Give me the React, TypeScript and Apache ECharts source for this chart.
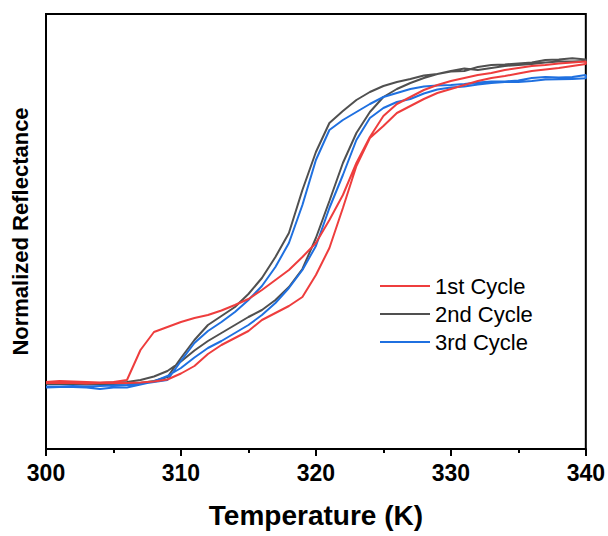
import React, { useEffect, useRef } from "react";
import * as echarts from "echarts";

// Temperature grid (K)
const temperatureK = [
  300, 301, 302, 303, 304, 305, 306, 307, 308, 309,
  310, 311, 312, 313, 314, 315, 316, 317, 318, 319,
  320, 321, 322, 323, 324, 325, 326, 327, 328, 329,
  330, 331, 332, 333, 334, 335, 336, 337, 338, 339, 340,
];

// Reflectance (arbitrary units)
const cycle1Heating = [
  67, 67, 67, 66.5, 67, 67, 67, 67.5, 68.5, 70.5,
  76.5, 84, 96, 105, 112, 119, 130, 137, 144, 153,
  175, 202, 242, 284, 312, 324, 337, 344, 351, 357,
  361, 365, 369, 372, 374, 376.5, 379, 380.5, 382, 384, 386,
];
const cycle1Cooling = [
  68, 69, 68.5, 68, 67.5, 68, 70, 100, 118, 123,
  128, 132, 135, 139.5, 145, 151, 160, 170, 180, 193,
  207, 230, 255, 287, 313, 334, 346, 353, 360, 365,
  369, 372, 375, 377, 380, 382, 384, 385, 386.5, 387.5, 388.5,
];
const cycle2Heating = [
  67, 67, 67, 67, 67, 67.5, 68, 70, 73.5, 79,
  88.5, 99.5, 109, 117, 125, 133, 140, 150, 163, 181,
  212, 249, 287, 317, 338, 353, 361, 367, 372, 376,
  379, 381.5, 380, 382, 384, 385, 386, 387.5, 388.5, 388.5, 389,
];
const cycle2Cooling = [
  66, 66, 66, 65.5, 66, 66, 66.5, 67, 69, 73,
  92, 110, 125, 134, 143, 156, 172, 193, 217, 260,
  298, 327, 339, 350, 358, 364, 368, 371, 374.5, 376,
  378.5, 379, 383, 385, 385.5, 386.5, 387.5, 390, 390.5, 391.7, 390.5,
];
const cycle3Heating = [
  62.5, 63, 63, 62.5, 61, 62.5, 62.5, 65.5, 68.5, 74,
  82, 92.5, 102, 109, 117, 125, 135, 147, 162, 180,
  204, 242, 275, 310, 332, 342, 348, 351, 356.5, 360.5,
  362.5, 363.5, 365.5, 367, 368, 368, 369, 370.5, 370.7, 371, 371.7,
];
const cycle3Cooling = [
  63.5, 63.5, 64, 63.5, 64, 64.5, 65, 66, 68, 70,
  89, 107, 119, 128, 138, 150, 164, 183, 207, 245,
  290, 320, 330, 338, 346, 353, 357, 361, 363.5, 364.5,
  365, 366, 367.5, 368.5, 368.5, 369.5, 372, 373, 372.5, 373, 375,
];

const cycleNames = ["1st Cycle", "2nd Cycle", "3rd Cycle"];
const cycleColors = ["#EE3D3D", "#505050", "#1F70E0"];

const FONT = "Arial, 'Liberation Sans', Helvetica, sans-serif";

function loop(heating: number[], cooling: number[]) {
  const up = heating.map((v, i) => [temperatureK[i], v]);
  const down = cooling.map((v, i) => [temperatureK[i], v]).reverse();
  return up.concat(down);
}

export default function App() {
  const ref = useRef<HTMLDivElement>(null);
  useEffect(() => {
    document.body.style.margin = "0";
    const chart = echarts.init(ref.current!, undefined, { renderer: "svg" });
    const loops = [
      loop(cycle1Heating, cycle1Cooling),
      loop(cycle2Heating, cycle2Cooling),
      loop(cycle3Heating, cycle3Cooling),
    ];
    const order = [1, 2, 0];
    chart.setOption({
      animation: false,
      backgroundColor: "#ffffff",
      grid: {
        left: 46,
        right: 22,
        top: 14,
        bottom: 87,
        show: true,
        borderColor: "#000",
        borderWidth: 2,
        backgroundColor: "transparent",
      },
      legend: {
        data: cycleNames,
        orient: "vertical",
        left: 375,
        top: 270,
        itemWidth: 50,
        itemHeight: 14,
        itemGap: 6,
        icon: "path://M0,0 L50,0 L50,2 L0,2 Z",
        textStyle: { fontSize: 22, fontFamily: FONT, color: "#000", lineHeight: 22 },
      },
      xAxis: {
        type: "value",
        min: 300,
        max: 340,
        interval: 10,
        name: "Temperature (K)",
        nameLocation: "middle",
        nameGap: 52,
        nameTextStyle: { fontSize: 28, fontWeight: "bold", fontFamily: FONT, color: "#000" },
        axisLine: { show: true, lineStyle: { color: "#000", width: 2 } },
        axisTick: { show: true, inside: false, length: 7, lineStyle: { color: "#000", width: 2 } },
        minorTick: { show: true, splitNumber: 2, length: 4, lineStyle: { color: "#000", width: 2 } },
        splitLine: { show: false },
        minorSplitLine: { show: false },
        axisLabel: { fontSize: 23, fontWeight: "bold", fontFamily: FONT, color: "#000", margin: 12 },
      },
      yAxis: {
        type: "value",
        min: 1,
        max: 436,
        name: "Normalized Reflectance",
        nameLocation: "middle",
        nameGap: 15,
        nameTextStyle: { fontSize: 22, fontWeight: "bold", fontFamily: FONT, color: "#000" },
        axisLine: { show: false },
        axisTick: { show: false },
        axisLabel: { show: false },
        splitLine: { show: false },
      },
      series: order.map((k) => ({
        name: cycleNames[k],
        type: "line",
        data: loops[k],
        symbol: "none",
        smooth: false,
        lineStyle: { color: cycleColors[k], width: 2 },
        itemStyle: { color: cycleColors[k] },
      })),
    });
    return () => chart.dispose();
  }, []);
  return (
    <div
      ref={ref}
      style={{ position: "absolute", left: 0, top: 0, width: 608, height: 536 }}
    />
  );
}
